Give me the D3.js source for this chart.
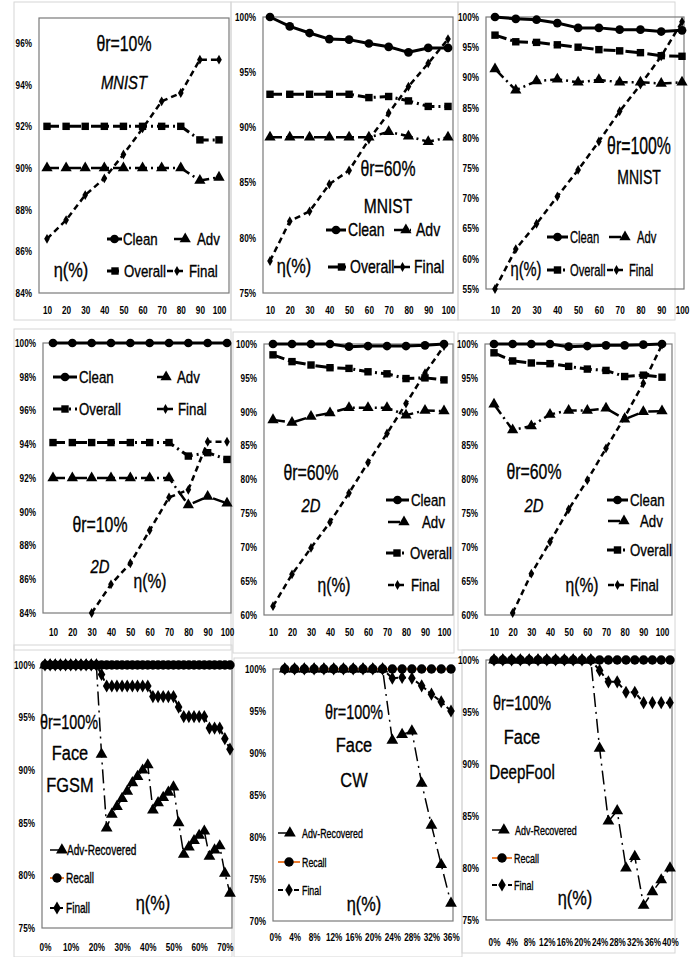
<!DOCTYPE html>
<html><head><meta charset="utf-8">
<script src="https://cdn.jsdelivr.net/npm/d3@7"></script>
<style>
body{margin:0;background:#fff}
text{font-family:"Liberation Sans",Arial,sans-serif;fill:#000}
</style>
</head><body>
<svg id="c" width="693" height="957"></svg>
<script>
// ---------- categories / tick labels ----------
const xEta = [10,20,30,40,50,60,70,80,90,100];
const xFace7 = [0,2,4,6,8,10,12,14,16,18,20,22,24,26,28,30,32,34,36,38,40,42,44,46,48,50,52,54,56,58,60,62,64,66,68,70,72];
const xFace8 = [2,4,6,8,10,12,14,16,18,20,22,24,26,28,30,32,34,36];
const xFace9 = [0,2,4,6,8,10,12,14,16,18,20,22,24,26,28,30,32,34,36,38,40];
const xTicksFace7 = [0,10,20,30,40,50,60,70];
const xTicksFace8 = [0,4,8,12,16,20,24,28,32,36];
const xTicksFace9 = [0,4,8,12,16,20,24,28,32,36,40];
const yTicksA = [84,86,88,90,92,94,96];
const yTicksB = [75,80,85,90,95,100];
const yTicksC = [55,60,65,70,75,80,85,90,95,100];
const yTicksD = [84,86,88,90,92,94,96,98,100];
const yTicksE = [60,65,70,75,80,85,90,95,100];
const yTicksF = [70,75,80,85,90,95,100];

// ---------- series values (%) ----------
// MNIST, theta_r = 10%
const m10Adv     = [90,90,90,90,90,90,90,90,89.4,89.55];
const m10Overall = [92,92,92,92,92,92,92,92,91.35,91.35];
const m10Final   = [86.6,87.5,88.7,89.5,90.65,91.9,93.2,93.6,95.2,95.2];
// MNIST, theta_r = 60%
const m60Clean   = [100,99.15,98.55,98.0,97.95,97.6,97.3,96.8,97.2,97.2];
const m60Adv     = [89.1,89.1,89.1,89.1,89.1,89.1,89.6,89.2,88.7,89.1];
const m60Overall = [93.0,93.0,93.0,93.0,93.0,92.7,92.8,92.4,91.9,91.9];
const m60Final   = [77.9,81.5,82.4,84.85,86.1,88.9,91.3,93.7,95.8,98.0];
// MNIST, theta_r = 100%
const m100Clean   = [100,99.7,99.55,99.0,98.2,98.2,97.9,97.9,97.6,97.8];
const m100Adv     = [91.4,87.9,89.4,89.7,89.2,89.6,89.2,89.2,89.0,89.2];
const m100Overall = [97.0,95.9,95.8,95.4,95.0,94.6,94.4,94.1,93.6,93.5];
const m100Final   = [55,61.6,65.8,70.3,74.7,79.4,84.4,88.8,93.5,99.2];
// 2D, theta_r = 10%
const d10Clean   = [100,100,100,100,100,100,100,100,100,100];
const d10Adv     = [92,92,92,92,92,92,92,90.4,90.9,90.5];
const d10Overall = [94.1,94.1,94.1,94.1,94.1,94.1,94.1,93.3,93.5,93.1];
const d10Final   = [null,null,84.0,85.7,86.95,88.9,90.85,91.3,94.15,94.15];
// 2D, theta_r = 60% (a)
const d60aClean   = [100,100,100,100,99.6,99.7,99.7,99.7,99.8,100];
const d60aAdv     = [88.8,88.4,89.3,89.8,90.6,90.6,90.6,89.5,90.2,90.1];
const d60aOverall = [98.4,97.4,96.9,96.5,96.4,95.9,95.6,94.9,95.0,94.7];
const d60aFinal   = [61.3,66.0,69.9,73.7,78.0,82.5,86.8,91.2,95.7,99.7];
// 2D, theta_r = 60% (b)
const d60bClean   = [100,100,100,100,99.6,99.7,99.8,99.8,99.9,100];
const d60bAdv     = [91.1,87.3,87.9,89.6,90.2,90.2,90.5,88.9,90.0,90.1];
const d60bOverall = [98.7,97.5,97.2,97.1,96.7,96.3,96.1,95.2,95.4,95.1];
const d60bFinal   = [null,60.3,66.1,70.8,75.6,79.9,84.6,89.2,94.2,99.9];
// Face FGSM
const fgsmAdv    = [100,100,100,100,100,100,100,100,100,100,100,91.5,84.5,85.8,86.55,87.3,88.0,88.8,89.4,90.0,90.5,86.2,86.9,87.4,87.9,88.4,85.0,82.0,82.7,83.3,83.8,84.2,81.8,82.4,82.8,80.2,78.3];
const fgsmRecall = [100,100,100,100,100,100,100,100,100,100,100,100,100,100,100,100,100,100,100,100,100,100,100,100,100,100,100,100,100,100,100,100,100,100,100,100,100];
const fgsmFinal  = [100,100,100,100,100,100,100,100,100,100,100,99.1,98,98,98,98,98,98,98,98,98,97,97,97,97,97,96,95.1,95.1,95.1,95.1,95.1,94,94,94,93,92];
// Face CW
const cwAdv    = [100,100,100,100,100,100,100,100,100,100,100,91.5,92.2,92.6,86.4,81.4,76.7,72.1];
const cwRecall = [100,100,100,100,100,100,100,100,100,100,100,100,100,100,100,100,100,100];
const cwFinal  = [100,100,100,100,100,100,100,100,100,100,100,98.9,99.0,98.9,98.0,97.0,96.1,95.0];
// Face DeepFool
const dfAdv    = [100,100,100,100,100,100,100,100,100,100,100,100,91.5,84.5,85.5,80.0,81.1,76.4,77.7,78.85,80.0];
const dfRecall = [100,100,100,100,100,100,100,100,100,100,100,100,100,100,100,100,100,100,100,100,100];
const dfFinal  = [100,100,100,100,100,100,100,100,100,100,100,100,99.0,97.9,97.9,96.9,96.9,95.9,95.9,95.9,95.9];

// ---------- styles ----------
const ST = {
  clean:   {stroke:'#000', w:3,   dash:null,        sym:d3.symbolCircle,   size:60},
  adv:     {stroke:'#000', w:2.5, dash:'12,4,2,4',  sym:d3.symbolTriangle, size:55},
  overall: {stroke:'#000', w:3,   dash:'12,4,2,4',  sym:d3.symbolSquare,   size:55},
  final:   {stroke:'#000', w:2.5, dash:'6,4',       sym:d3.symbolDiamond,  size:28},
  fAdv:    {stroke:'#000', w:1.5, dash:'14,5,2,5',  sym:d3.symbolTriangle, size:60},
  fRecall: {stroke:'#ED7D31', w:2, dash:null,       sym:d3.symbolCircle,   size:70},
  fFinal:  {stroke:'#000', w:2,   dash:'5,3',       sym:d3.symbolDiamond,  size:50}
};
const SX = 0.78; // horizontal condensing factor for the narrow look

const svg = d3.select('#c');
svg.append('rect').attr('width',693).attr('height',957).attr('fill','#fff');

// light panel frames
const frames = [[14,2,231,320],[231,2,458,320],[458,2,675,320],
                [14,329,231,650],[233,332,454,653],[458,333,675,650],
                [14,645,232,957],[234,658,462,957],[462,650,675,953]];
frames.forEach(f=>svg.append('rect').attr('x',f[0]).attr('y',f[1]).attr('width',f[2]-f[0]).attr('height',f[3]-f[1])
  .attr('fill','none').attr('stroke','#d6d6d6').attr('stroke-width',1));

function txt(g,x,y,s,size,o={}){
  return g.append('text').attr('transform',`translate(${x},${y}) scale(${o.sx||SX},1)`).attr('dy','0.35em')
    .attr('text-anchor',o.anchor||'start').attr('font-size',size)
    .attr('stroke','#000').attr('stroke-width',0.35)
    .attr('font-style',o.italic?'italic':'normal').attr('font-weight',o.weight||'normal').text(s);
}
function marker(g,st,cx,cy){
  g.append('path').attr('d',d3.symbol().type(st.sym).size(st.size)())
   .attr('transform',`translate(${cx},${cy})`).attr('fill','#000');
}
function sample(g,st,x1,x2,y,mpos){
  g.append('line').attr('x1',x1).attr('x2',x2).attr('y1',y).attr('y2',y)
   .attr('stroke',st.stroke).attr('stroke-width',st.w).attr('stroke-dasharray',st.dash);
  marker(g,st,x1+(x2-x1)*(mpos==null?0.5:mpos),y);
}

function drawPanel(p){
  const g = svg.append('g');
  const b = p.box;
  const x = d3.scaleLinear().domain(p.xDomain).range(p.xRange);
  const y = d3.scaleLinear().domain(p.yDomain).range([b.b,b.t]);
  g.append('rect').attr('x',b.l).attr('y',b.t).attr('width',b.r-b.l).attr('height',b.b-b.t)
   .attr('fill','none').attr('stroke','#7a7a7a').attr('stroke-width',1.2);
  const ya = g.append('g').attr('transform',`translate(${b.l-7},0)`)
    .call(d3.axisLeft(y).tickValues(p.yTicks).tickSize(0).tickPadding(0).tickFormat(d=>d+'%'));
  const xa = g.append('g').attr('transform',`translate(0,${p.xLabelY-6})`)
    .call(d3.axisBottom(x).tickValues(p.xTicks).tickSize(0).tickPadding(0).tickFormat(p.xFmt||(d=>d)));
  [ya,xa].forEach(a=>{a.select('.domain').remove();
    a.selectAll('text').attr('font-size',10.5).attr('font-weight','bold').attr('x',0)
     .attr('transform',`scale(${SX},1)`)
     .attr('font-family','"Liberation Sans",Arial,sans-serif').attr('fill','#000');});
  p.series.forEach(s=>{
    const st = ST[s.style];
    const pts = p.xs.map((xv,i)=>[xv,s.values[i]]);
    const line = d3.line().defined(d=>d[1]!=null).x(d=>x(d[0])).y(d=>y(d[1]));
    g.append('path').attr('d',line(pts)).attr('fill','none').attr('stroke',st.stroke)
     .attr('stroke-width',st.w).attr('stroke-dasharray',st.dash).attr('stroke-linejoin','round');
    pts.filter(d=>d[1]!=null).forEach(d=>marker(g,st,x(d[0]),y(d[1])));
  });
  p.texts.forEach(t=>txt(g,t[0],t[1],t[2],t[3],t[4]||{}));
  p.legend.forEach(l=>{sample(g,ST[l.style],l.x1,l.x2,l.y,l.m); txt(g,l.tx,l.y,l.label,l.size,{sx:p.lsx});});
}

const mnistSeries = (c,a,o,f)=>[
  ...(c?[{style:'clean',values:c}]:[]),
  {style:'overall',values:o},{style:'adv',values:a},{style:'final',values:f}];
const faceSeries = (a,r,f)=>[{style:'fAdv',values:a},{style:'fFinal',values:f},{style:'fRecall',values:r}];
const pct = d=>d+'%';

const panels = [
 { box:{l:39,t:18,r:229,b:293}, xDomain:[10,100], xRange:[47,219], yDomain:[84,97.2], yTicks:yTicksA,
   xs:xEta, xTicks:xEta, xLabelY:313, series:mnistSeries(null,m10Adv,m10Overall,m10Final),
   texts:[[124,43,'θr=10%',22,{anchor:'middle',sx:0.72}],[124,82,'MNIST',19,{anchor:'middle',italic:true}],[71,270,'η(%)',21,{anchor:'middle'}]],
   legend:[{style:'clean',x1:107,x2:122,y:239,tx:123,label:'Clean',size:17,m:0.5},
           {style:'adv',x1:174,x2:190,y:239,tx:197,label:'Adv',size:17,m:0.7},
           {style:'overall',x1:107,x2:123,y:271,tx:124,label:'Overall',size:17},
           {style:'final',x1:167,x2:187,y:271,tx:189,label:'Final',size:17}] },
 { box:{l:263,t:17,r:453,b:293}, xDomain:[10,100], xRange:[270,448], yDomain:[75,100], yTicks:yTicksB,
   xs:xEta, xTicks:xEta, xLabelY:313, series:mnistSeries(m60Clean,m60Adv,m60Overall,m60Final),
   texts:[[388,168,'θr=60%',22,{anchor:'middle',sx:0.72}],[388,206,'MNIST',20,{anchor:'middle'}],[294,266,'η(%)',21,{anchor:'middle'}]],
   legend:[{style:'clean',x1:326,x2:346,y:230,tx:348,label:'Clean',size:18},
           {style:'adv',x1:394,x2:411,y:230,tx:416,label:'Adv',size:18,m:0.7},
           {style:'overall',x1:328,x2:346,y:267,tx:350,label:'Overall',size:18,m:0.75},
           {style:'final',x1:394,x2:411,y:267,tx:414,label:'Final',size:18}] },
 { box:{l:486,t:17,r:684,b:289}, xDomain:[10,100], xRange:[495,682], yDomain:[55,100], yTicks:yTicksC,
   xs:xEta, xTicks:xEta, xLabelY:313, lsx:0.66, series:mnistSeries(m100Clean,m100Adv,m100Overall,m100Final),
   texts:[[639,146,'θr=100%',24,{anchor:'middle',sx:0.66}],[639,177,'MNIST',20,{anchor:'middle',sx:0.7}],[526,269,'η(%)',21,{anchor:'middle',sx:0.7}]],
   legend:[{style:'clean',x1:547,x2:568,y:237,tx:570,label:'Clean',size:17},
           {style:'adv',x1:609,x2:629,y:237,tx:637,label:'Adv',size:17,m:0.8},
           {style:'overall',x1:547,x2:568,y:270,tx:570,label:'Overall',size:17},
           {style:'final',x1:607,x2:626,y:270,tx:629,label:'Final',size:17}] },
 { box:{l:43,t:343,r:231,b:613}, xDomain:[10,100], xRange:[53,227], yDomain:[84,100], yTicks:yTicksD,
   xs:xEta, xTicks:xEta, xLabelY:635, series:mnistSeries(d10Clean,d10Adv,d10Overall,d10Final),
   texts:[[100,524,'θr=10%',22,{anchor:'middle',sx:0.72}],[100,566,'2D',19,{anchor:'middle',italic:true}],[150,581,'η(%)',20,{anchor:'middle'}]],
   legend:[{style:'clean',x1:53,x2:77,y:377,tx:79,label:'Clean',size:17},
           {style:'adv',x1:157,x2:170,y:377,tx:177,label:'Adv',size:17,m:0.7},
           {style:'overall',x1:53,x2:77,y:409,tx:79,label:'Overall',size:17},
           {style:'final',x1:157,x2:174,y:409,tx:178,label:'Final',size:17}] },
 { box:{l:264,t:344,r:453,b:615}, xDomain:[10,100], xRange:[273,444], yDomain:[60,100], yTicks:yTicksE,
   xs:xEta, xTicks:xEta, xLabelY:635, series:mnistSeries(d60aClean,d60aAdv,d60aOverall,d60aFinal),
   texts:[[311,472,'θr=60%',22,{anchor:'middle',sx:0.72}],[311,505,'2D',19,{anchor:'middle',italic:true}],[334,585,'η(%)',20,{anchor:'middle'}]],
   legend:[{style:'clean',x1:386,x2:409,y:500,tx:411,label:'Clean',size:17},
           {style:'adv',x1:388,x2:408,y:522,tx:422,label:'Adv',size:17,m:0.8},
           {style:'overall',x1:386,x2:408,y:553,tx:410,label:'Overall',size:17},
           {style:'final',x1:388,x2:407,y:585,tx:411,label:'Final',size:17}] },
 { box:{l:485,t:344,r:672,b:615}, xDomain:[10,100], xRange:[494,662], yDomain:[60,100], yTicks:yTicksE,
   xs:xEta, xTicks:xEta, xLabelY:635, series:mnistSeries(d60bClean,d60bAdv,d60bOverall,d60bFinal),
   texts:[[534,471,'θr=60%',22,{anchor:'middle',sx:0.72}],[534,505,'2D',19,{anchor:'middle',italic:true}],[582,585,'η(%)',20,{anchor:'middle'}]],
   legend:[{style:'clean',x1:607,x2:628,y:500,tx:630,label:'Clean',size:17},
           {style:'adv',x1:608,x2:628,y:521,tx:640,label:'Adv',size:17,m:0.8},
           {style:'overall',x1:607,x2:628,y:550,tx:630,label:'Overall',size:17},
           {style:'final',x1:608,x2:627,y:585,tx:630,label:'Final',size:17}] },
 { box:{l:42,t:665,r:232,b:928}, xDomain:[0,72], xRange:[45,230], yDomain:[75,100], yTicks:yTicksB,
   xs:xFace7, xTicks:xTicksFace7, xFmt:pct, xLabelY:950, lsx:0.72, series:faceSeries(fgsmAdv,fgsmRecall,fgsmFinal),
   texts:[[69,722,'θr=100%',20,{anchor:'middle',sx:0.72}],[70,753,'Face',21,{anchor:'middle'}],[70,785,'FGSM',21,{anchor:'middle'}],[153,903,'η(%)',21,{anchor:'middle'}]],
   legend:[{style:'fAdv',x1:50,x2:64,y:850,tx:67,label:'Adv-Recovered',size:14,m:0.85},
           {style:'fRecall',x1:50,x2:64,y:878,tx:66,label:'Recall',size:14},
           {style:'fFinal',x1:50,x2:64,y:908,tx:66,label:'Finall',size:14}] },
 { box:{l:273,t:669,r:453,b:921}, xDomain:[0,36], xRange:[275,451], yDomain:[70,100], yTicks:yTicksF,
   xs:xFace8, xTicks:xTicksFace8, xFmt:pct, xLabelY:940, lsx:0.68, series:faceSeries(cwAdv,cwRecall,cwFinal),
   texts:[[354,712,'θr=100%',20,{anchor:'middle',sx:0.72}],[354,745,'Face',21,{anchor:'middle'}],[354,780,'CW',21,{anchor:'middle'}],[364,904,'η(%)',21,{anchor:'middle'}]],
   legend:[{style:'fAdv',x1:278,x2:292,y:833,tx:302,label:'Adv-Recovered',size:13,m:0.85},
           {style:'fRecall',x1:278,x2:300,y:862,tx:302,label:'Recall',size:13},
           {style:'fFinal',x1:278,x2:300,y:890,tx:302,label:'Final',size:13}] },
 { box:{l:486,t:660,r:672,b:920}, xDomain:[0,40], xRange:[494,670], yDomain:[75,100], yTicks:yTicksB,
   xs:xFace9, xTicks:xTicksFace9, xFmt:pct, xLabelY:945, lsx:0.69, series:faceSeries(dfAdv,dfRecall,dfFinal),
   texts:[[522,703,'θr=100%',20,{anchor:'middle',sx:0.72}],[522,737,'Face',21,{anchor:'middle'}],[522,772,'DeepFool',21,{anchor:'middle',sx:0.72}],[575,898,'η(%)',21,{anchor:'middle'}]],
   legend:[{style:'fAdv',x1:492,x2:506,y:830,tx:515,label:'Adv-Recovered',size:13,m:0.85},
           {style:'fRecall',x1:492,x2:512,y:858,tx:514,label:'Recall',size:13},
           {style:'fFinal',x1:492,x2:512,y:885,tx:514,label:'Final',size:13}] }
];
panels.forEach(drawPanel);
</script>
</body></html>
